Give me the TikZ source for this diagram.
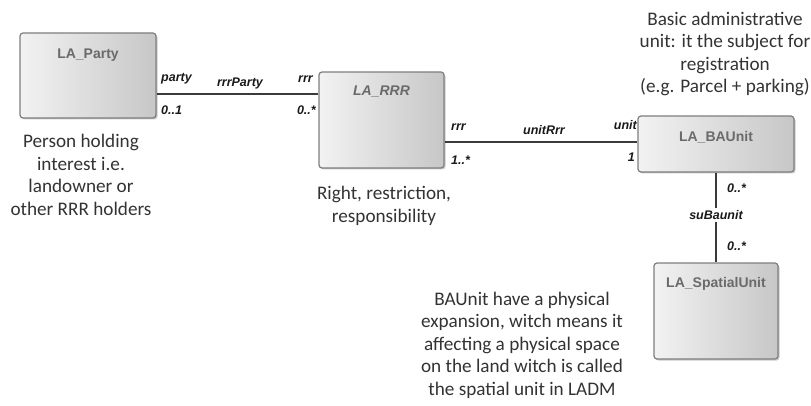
\documentclass[tikz,border=0pt]{standalone}
\usepackage{fontspec}
\setmainfont{Carlito}
\newfontfamily\arialf{Liberation Sans}
\usetikzlibrary{shadows}
\definecolor{boxtxt}{HTML}{6A6A6A}
\definecolor{boxline}{HTML}{7E7E7E}
\definecolor{conn}{HTML}{3A3A3A}
\tikzset{
  umlbox/.style={rectangle, rounded corners=3pt, draw=boxline, line width=1.2pt,
    left color=black!5, right color=black!22,
    drop shadow={shadow xshift=1.5pt, shadow yshift=-1.5pt, opacity=0.35, fill=black!60}},
  boxlabel/.style={font=\arialf\bfseries\fontsize{14}{16}\selectfont, text=boxtxt, inner sep=0pt},
  rolelabel/.style={font=\arialf\bfseries\itshape\fontsize{12.5}{14}\selectfont, text=black!90, inner sep=1pt},
  note/.style={font=\fontsize{19.2}{22.5}\selectfont, text=black!80, align=center, inner sep=0pt},
  assoc/.style={draw=conn, line width=1.3pt}
}
\begin{document}
\begin{tikzpicture}[x=1pt,y=-1pt]
\useasboundingbox (0,0) rectangle (811,406);
% boxes
\node[umlbox, minimum width=136pt, minimum height=85pt] (party) at (88,75.5) {};
\node[umlbox, minimum width=125pt, minimum height=96pt] (rrr) at (381.5,120) {};
\node[umlbox, minimum width=156pt, minimum height=56pt] (ba) at (716,144) {};
\node[umlbox, minimum width=124pt, minimum height=96pt] (sp) at (716,311) {};
% box titles
\node[boxlabel] (tparty) at (88,55) {LA\_Party};
\node[boxlabel, font=\arialf\bfseries\itshape\fontsize{14}{16}\selectfont] (trrr) at (381.5,92) {LA\_RRR};
\node[boxlabel] (tba) at (716,137) {LA\_BAUnit};
\node[boxlabel] (tsp) at (716,284) {LA\_SpatialUnit};
% connectors
\coordinate (c1) at (240,94);
\coordinate (c2) at (544,142);
\draw[assoc] (party.east |- c1) -- (rrr.west |- c1);
\draw[assoc] (rrr.east |- c2) -- (ba.west |- c2);
\draw[assoc] (ba.south) -- (sp.north);
% role labels
\node[rolelabel, anchor=west] (l1) at (160,79) {party};
\node[rolelabel, anchor=west] (l2) at (160,110) {0..1};
\node[rolelabel] (l3) at (240,83) {rrrParty};
\node[rolelabel, anchor=east] (l4) at (314,79) {rrr};
\node[rolelabel, anchor=east] (l5) at (317,110) {0..*};
\node[rolelabel, anchor=west] (l6) at (450,127) {rrr};
\node[rolelabel, anchor=west] (l7) at (450,160) {1..*};
\node[rolelabel] (l8) at (544,130) {unitRrr};
\node[rolelabel, anchor=east] (l9) at (638,125) {unit};
\node[rolelabel, anchor=east] (l10) at (636,157) {1};
\node[rolelabel, anchor=west] (l11) at (726,188) {0..*};
\node[rolelabel, fill=white, inner sep=2pt] (l12) at (716,215) {suBaunit};
\node[rolelabel, anchor=west] (l13) at (726,246) {0..*};
% notes
\node[note] (n1) at (81,175) {Person holding\\interest i.e.\\landowner or\\other RRR holders};
\node[note] (n2) at (384,206) {Right, restriction,\\responsibility};
\node[note] (n3) at (725,54) {Basic administrative\\unit: it the subject for\\registration\\(e.g. Parcel + parking)};
\node[note] (n4) at (522,345) {BAUnit have a physical\\expansion, witch means it\\affecting a physical space\\on the land witch is called\\the spatial unit in LADM};
\end{tikzpicture}
\end{document}
